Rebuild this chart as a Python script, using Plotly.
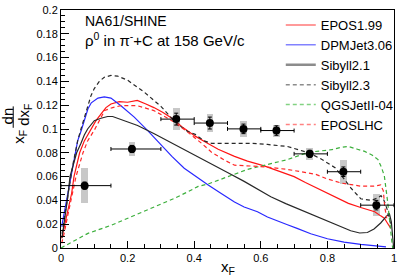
import plotly.graph_objects as go

# ---------------- data ----------------
# NA61/SHINE data points
data_x = [0.071, 0.213, 0.346, 0.447, 0.548, 0.647, 0.747, 0.848, 0.947]
data_y = [0.0524, 0.0832, 0.1083, 0.1050, 0.1001, 0.0987, 0.0791, 0.0641, 0.0360]
data_xlo = [0.0, 0.15, 0.3, 0.4, 0.5, 0.6, 0.7, 0.8, 0.9]
data_xhi = [0.15, 0.3, 0.4, 0.5, 0.6, 0.7, 0.8, 0.9, 1.0]
data_stat = [0.003, 0.003, 0.005, 0.005, 0.004, 0.004, 0.003, 0.004, 0.004]
data_sys = [0.015, 0.006, 0.0095, 0.0075, 0.007, 0.005, 0.005, 0.010, 0.0095]

# EPOS1.99
epos199_x = [0.002, 0.015, 0.032, 0.039, 0.056, 0.07, 0.091, 0.105, 0.121, 0.135, 0.15, 0.175, 0.2, 0.229,
             0.255, 0.279, 0.305, 0.333, 0.363, 0.403, 0.44, 0.472, 0.521, 0.56, 0.61, 0.65, 0.7, 0.734,
             0.77, 0.813, 0.863, 0.9, 0.942, 0.96, 0.971, 0.98, 0.99]
epos199_y = [0.008, 0.025, 0.046, 0.06, 0.08, 0.09, 0.0995, 0.107, 0.113, 0.118, 0.121, 0.123, 0.1225, 0.124,
             0.121, 0.118, 0.114, 0.109, 0.102, 0.094, 0.088, 0.083, 0.077, 0.073, 0.069, 0.065, 0.06, 0.055,
             0.05, 0.044, 0.0375, 0.034, 0.0305, 0.027, 0.025, 0.021, 0.0167]

# DPMJet3.06
dpmjet_x = [0.002, 0.01, 0.02, 0.03, 0.042, 0.05, 0.061, 0.07, 0.081, 0.091, 0.1, 0.111, 0.13, 0.15, 0.18,
            0.22, 0.259, 0.299, 0.333, 0.37, 0.41, 0.442, 0.48, 0.521, 0.55, 0.59, 0.62, 0.65, 0.68, 0.709,
            0.75, 0.8, 0.85, 0.9, 0.95, 0.976]
dpmjet_y = [0.018, 0.03, 0.045, 0.06, 0.08, 0.09, 0.099, 0.108, 0.117, 0.122, 0.124, 0.126, 0.127, 0.126, 0.1196,
            0.11, 0.099, 0.0867, 0.077, 0.067, 0.059, 0.053, 0.046, 0.0387, 0.0345, 0.0305, 0.026, 0.0225, 0.0195, 0.0165,
            0.012, 0.0078, 0.005, 0.003, 0.0015, 0.001]

# Sibyll2.1
sib21_x = [0.003, 0.01, 0.02, 0.027, 0.037, 0.047, 0.06, 0.07, 0.08, 0.09, 0.1, 0.12, 0.14, 0.155, 0.18,
           0.2, 0.23, 0.28, 0.333, 0.39, 0.45, 0.5, 0.55, 0.59, 0.63, 0.675, 0.72, 0.78, 0.83, 0.87,
           0.897, 0.92, 0.94, 0.96, 0.975, 0.986, 0.992, 0.996, 0.999]
sib21_y = [0.0085, 0.022, 0.042, 0.06, 0.07, 0.08, 0.088, 0.095, 0.1, 0.104, 0.107, 0.109, 0.1105, 0.1105, 0.108,
           0.106, 0.103, 0.096, 0.088, 0.08, 0.071, 0.0634, 0.056, 0.0496, 0.043, 0.0373, 0.032, 0.025, 0.019, 0.0145,
           0.0126, 0.013, 0.016, 0.021, 0.026, 0.029, 0.022, 0.008, 0.0]

# Sibyll2.3
sib23_x = [0.003, 0.015, 0.025, 0.037, 0.05, 0.06, 0.07, 0.081, 0.09, 0.1, 0.115, 0.13, 0.15, 0.17, 0.2,
           0.25, 0.3, 0.333, 0.36, 0.38, 0.403, 0.43, 0.452, 0.5, 0.571, 0.62, 0.68, 0.72, 0.744, 0.78,
           0.823, 0.85, 0.872, 0.9, 0.932, 0.95, 0.961, 0.97, 0.98, 0.99]
sib23_y = [0.012, 0.035, 0.052, 0.072, 0.09, 0.1, 0.11, 0.12, 0.128, 0.134, 0.14, 0.1435, 0.145, 0.1445, 0.141,
           0.131, 0.119, 0.109, 0.102, 0.098, 0.0955, 0.09, 0.088, 0.088, 0.088, 0.087, 0.0853, 0.082, 0.08, 0.075,
           0.0675, 0.058, 0.05, 0.0414, 0.04, 0.042, 0.044, 0.04, 0.032, 0.02]

# QGSJetII-04
qgs_x = [0.0, 0.081, 0.15, 0.2, 0.25, 0.3, 0.338, 0.383, 0.412, 0.442, 0.48, 0.521, 0.56, 0.6, 0.64,
         0.68, 0.744, 0.78, 0.813, 0.84, 0.863, 0.89, 0.912, 0.935, 0.952, 0.962, 0.971, 0.981, 0.986, 0.991, 0.996]
qgs_y = [0.0, 0.0123, 0.019, 0.025, 0.031, 0.0375, 0.0414, 0.0475, 0.0518, 0.0538, 0.058, 0.062, 0.066, 0.0689, 0.072,
         0.0743, 0.0805, 0.0815, 0.0826, 0.0845, 0.0853, 0.083, 0.0812, 0.078, 0.0743, 0.068, 0.0606, 0.0387, 0.0277, 0.012, 0.0]

# EPOSLHC
eposlhc_x = [0.002, 0.01, 0.02, 0.033, 0.045, 0.066, 0.08, 0.101, 0.131, 0.155, 0.18, 0.229, 0.279, 0.333,
             0.373, 0.422, 0.452, 0.49, 0.521, 0.571, 0.62, 0.68, 0.72, 0.764, 0.8, 0.843, 0.9, 0.94, 0.96,
             0.968, 0.972, 0.978]
eposlhc_y = [0.004, 0.013, 0.027, 0.045, 0.06, 0.08, 0.09, 0.0995, 0.1155, 0.118, 0.1196, 0.1196, 0.1155, 0.107,
             0.099, 0.088, 0.0805, 0.074, 0.0696, 0.0689, 0.068, 0.066, 0.064, 0.062, 0.058, 0.0545, 0.052, 0.052, 0.053,
             0.048, 0.035, 0.025]

model_names = ["EPOS1.99", "DPMJet3.06", "Sibyll2.1", "Sibyll2.3", "QGSJetII-04", "EPOSLHC"]
y_ticks = [0, 0.02, 0.04, 0.06, 0.08, 0.1, 0.12, 0.14, 0.16, 0.18, 0.2]
x_ticks = [0, 0.2, 0.4, 0.6, 0.8, 1]

# ---------------- figure ----------------
FONT = "Liberation Sans, Arial, Helvetica, sans-serif"
fig = go.Figure()

# systematic boxes
fig.add_trace(go.Bar(
    x=data_x, y=[2 * s for s in data_sys], base=[y - s for y, s in zip(data_y, data_sys)],
    width=0.02, marker=dict(color="#c8c8c8", line=dict(width=0)), showlegend=False, hoverinfo="skip"))

curves = [
    (epos199_x, epos199_y, "rgb(255,20,20)", "solid"),
    (dpmjet_x, dpmjet_y, "rgb(40,40,255)", "solid"),
    (sib21_x, sib21_y, "rgb(40,40,40)", "solid"),
    (sib23_x, sib23_y, "rgb(40,40,40)", "4px,3px"),
    (qgs_x, qgs_y, "rgb(60,175,60)", "4px,3px"),
    (eposlhc_x, eposlhc_y, "rgb(255,40,40)", "4px,3px"),
]
for (cx, cy, col, dash) in curves:
    fig.add_trace(go.Scatter(x=cx, y=cy, mode="lines", line=dict(color=col, width=1.2, dash=dash),
                             showlegend=False, hoverinfo="skip"))

# legend entries (lighter, as in the reference legend)
leg_cols = ["rgb(255,120,120)", "rgb(130,130,255)", "rgb(140,140,140)", "rgb(140,140,140)",
            "rgb(130,210,130)", "rgb(255,130,130)"]
leg_dash = ["solid", "solid", "solid", "4px,3px", "4px,3px", "4px,3px"]
leg_w = [1.5, 1.5, 2.5, 1.5, 1.5, 1.5]
for name, col, dash, w in zip(model_names, leg_cols, leg_dash, leg_w):
    fig.add_trace(go.Scatter(x=[None], y=[None], mode="lines", name=name,
                             line=dict(color=col, width=w, dash=dash)))

# data points
fig.add_trace(go.Scatter(
    x=data_x, y=data_y, mode="markers",
    marker=dict(color="black", size=8),
    error_x=dict(type="data", symmetric=False,
                 array=[hi - x for hi, x in zip(data_xhi, data_x)],
                 arrayminus=[x - lo for lo, x in zip(data_xlo, data_x)],
                 color="black", thickness=1, width=2),
    error_y=dict(type="data", array=data_stat, color="black", thickness=1, width=2),
    showlegend=False, hoverinfo="skip"))

axis_common = dict(showgrid=False, zeroline=False, showline=True, linecolor="black", linewidth=1,
                   mirror=True, ticks="inside", tickcolor="black", tickwidth=1,
                   ticklabeloverflow="allow",
                   tickfont=dict(family=FONT, size=11, color="black"))

fig.update_layout(
    width=403, height=277,
    margin=dict(l=61, r=4, t=4, b=29),
    paper_bgcolor="white", plot_bgcolor="white",
    bargap=0,
    xaxis=dict(range=[0, 1], tickvals=x_ticks, ticktext=[str(v) for v in x_ticks], ticklen=7,
               minor=dict(ticks="inside", dtick=0.05, ticklen=4, tickcolor="black"), **axis_common),
    yaxis=dict(range=[0, 0.2], tickvals=y_ticks, ticktext=[("%g" % v) for v in y_ticks], ticklen=8,
               minor=dict(ticks="inside", dtick=0.005, ticklen=4, tickcolor="black"), **axis_common),
    legend=dict(x=0.66, y=1.0, xanchor="left", yanchor="top", bgcolor="rgba(0,0,0,0)",
                font=dict(family=FONT, size=13, color="black"), borderwidth=0,
                tracegroupgap=0, itemwidth=30),
    font=dict(family=FONT, color="black"),
)

ann = []
ann.append(dict(xref="paper", yref="paper", x=0.065, y=0.953, xanchor="left", yanchor="middle",
                text="NA61/SHINE", showarrow=False, font=dict(family=FONT, size=14)))
ann.append(dict(xref="paper", yref="paper", x=0.065, y=0.878, xanchor="left", yanchor="middle",
                text="\u03c1<sup>0</sup> in \u03c0<sup>-</sup>+C at 158 GeV/c", showarrow=False,
                font=dict(family=FONT, size=15)))
# x-axis title
ann.append(dict(xref="paper", yref="paper", x=0.5, y=-0.08, xanchor="center", yanchor="middle",
                text="x<sub>F</sub>", showarrow=False, font=dict(family=FONT, size=15)))
# y-axis title: x_F  dn/dx_F
ann.append(dict(xref="paper", yref="paper", x=-0.127, y=0.466, xanchor="center", yanchor="middle",
                text="x<sub>F</sub>", textangle=-90, showarrow=False, font=dict(family=FONT, size=15)))
ann.append(dict(xref="paper", yref="paper", x=-0.162, y=0.553, xanchor="center", yanchor="middle",
                text="dn", textangle=-90, showarrow=False, font=dict(family=FONT, size=15)))
ann.append(dict(xref="paper", yref="paper", x=-0.108, y=0.56, xanchor="center", yanchor="middle",
                text="dx<sub>F</sub>", textangle=-90, showarrow=False, font=dict(family=FONT, size=15)))
fig.update_layout(annotations=ann)
fig.add_shape(type="line", xref="paper", yref="paper", x0=-0.1435, x1=-0.1435, y0=0.505, y1=0.595,
              line=dict(color="black", width=1))

fig.write_html("out.html", config={"displayModeBar": False},
               post_script="document.body.style.margin='0';document.body.style.overflow='hidden';")
